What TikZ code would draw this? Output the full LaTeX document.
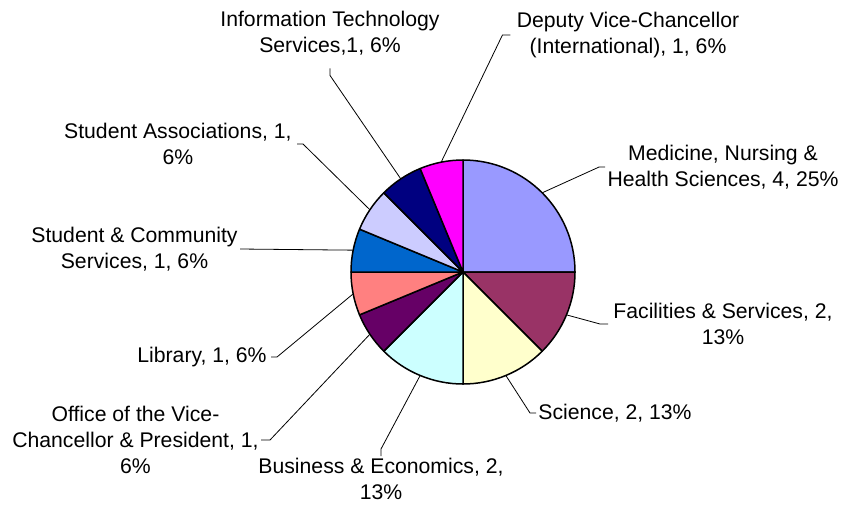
\documentclass[tikz,border=0pt]{standalone}
\usepackage{fontspec}
\setmainfont{Liberation Sans}
\usepackage{xcolor}
\usetikzlibrary{positioning}

\definecolor{medc}{HTML}{9999FF}
\definecolor{facc}{HTML}{993366}
\definecolor{scic}{HTML}{FFFFCC}
\definecolor{busc}{HTML}{CCFFFF}
\definecolor{offc}{HTML}{660066}
\definecolor{libc}{HTML}{FF8080}
\definecolor{scsc}{HTML}{0066CC}
\definecolor{sasc}{HTML}{CCCCFF}
\definecolor{itc}{HTML}{000080}
\definecolor{dvcc}{HTML}{FF00FF}

\begin{document}
\begin{tikzpicture}[%
    x=0.5pt,
    y=0.5pt,
    slice/.style={%
      draw=black,
      line width=0.75pt,
      line join=round
    },
    leader/.style={%
      draw=black,
      line width=0.4pt
    },
    lbl/.style={%
      align=center,
      inner sep=1pt,
      font=\fontsize{10.6}{13}\selectfont
    }
  ]
    \useasboundingbox (0,0) rectangle (844,511);
    \coordinate (c) at (463,239);

    % slices, clockwise from the top
    \foreach \a/\b/\col in {0/90/medc, -45/0/facc, -90/-45/scic, -135/-90/busc,
        -157.5/-135/offc, -180/-157.5/libc, 157.5/180/scsc, 135/157.5/sasc,
        112.5/135/itc, 90/112.5/dvcc}
      \filldraw[slice, fill=\col] (c) -- ++(\a:112) arc[start angle=\a, end angle=\b, radius=112] -- cycle;

    % points on the rim where the leaders start
    \path (c) ++(45:112)      coordinate (pmed)
          (c) ++(-22.5:112)   coordinate (pfac)
          (c) ++(-67.5:112)   coordinate (psci)
          (c) ++(-112.5:112)  coordinate (pbus)
          (c) ++(-146.25:112) coordinate (poff)
          (c) ++(-168.75:112) coordinate (plib)
          (c) ++(168.75:112)  coordinate (pscs)
          (c) ++(146.25:112)  coordinate (psas)
          (c) ++(123.75:112)  coordinate (pit)
          (c) ++(101.25:112)  coordinate (pdvc);

    \node[lbl] (med) at (723,344) {Medicine, Nursing \&\\Health Sciences, 4, 25\%};
    \node[lbl] (fac) at (723,187) {Facilities \& Services, 2,\\13\%};
    \node[lbl, anchor=west] (sci) at (536,98) {Science, 2, 13\%};
    \node[lbl, anchor=north] (bus) at (381,55) {Business \& Economics, 2,\\13\%};
    \node[lbl, anchor=east] (off) at (261,71) {Office of the Vice-\\Chancellor \& President, 1,\\6\%};
    \node[lbl, anchor=east] (lib) at (269,154) {Library, 1, 6\%};
    \node[lbl, anchor=east] (scs) at (240,262) {Student \& Community\\Services, 1, 6\%};
    \node[lbl, anchor=east] (sas) at (294,367) {Student Associations, 1,\\6\%};
    \node[lbl] (it) at (330,478) {Information Technology\\Services,1, 6\%};
    \node[lbl] (dvc) at (628,476) {Deputy Vice-Chancellor\\(International), 1, 6\%};

    \draw[leader] (pmed) -- ([xshift=-3pt]med.west) -- (med.west);
    \draw[leader] (pfac) -- ([xshift=-5.5pt]fac.west) -- ([xshift=-1.5pt]fac.west);
    \draw[leader] (psci) -- ([xshift=-3pt]sci.west) -- (sci.west);
    \draw[leader] (pbus) -- ([yshift=3.5pt]bus.north) -- (bus.north);
    \draw[leader] (poff) -- ([xshift=4.5pt]off.east) -- (off.east);
    \draw[leader] (plib) -- ([xshift=4pt]lib.east) -- ([xshift=1pt]lib.east);
    \draw[leader] (pscs) -- (scs.east);
    \draw[leader] (psas) -- ([xshift=4.5pt]sas.east) -- ([xshift=1.5pt]sas.east);
    \draw[leader] (pit) -- ([yshift=-9pt]it.south) -- ++(0,7);
    \draw[leader] (pdvc) -- ([xshift=-6pt]dvc.west) -- ([xshift=-2pt]dvc.west);
  \end{tikzpicture}
\end{document}
